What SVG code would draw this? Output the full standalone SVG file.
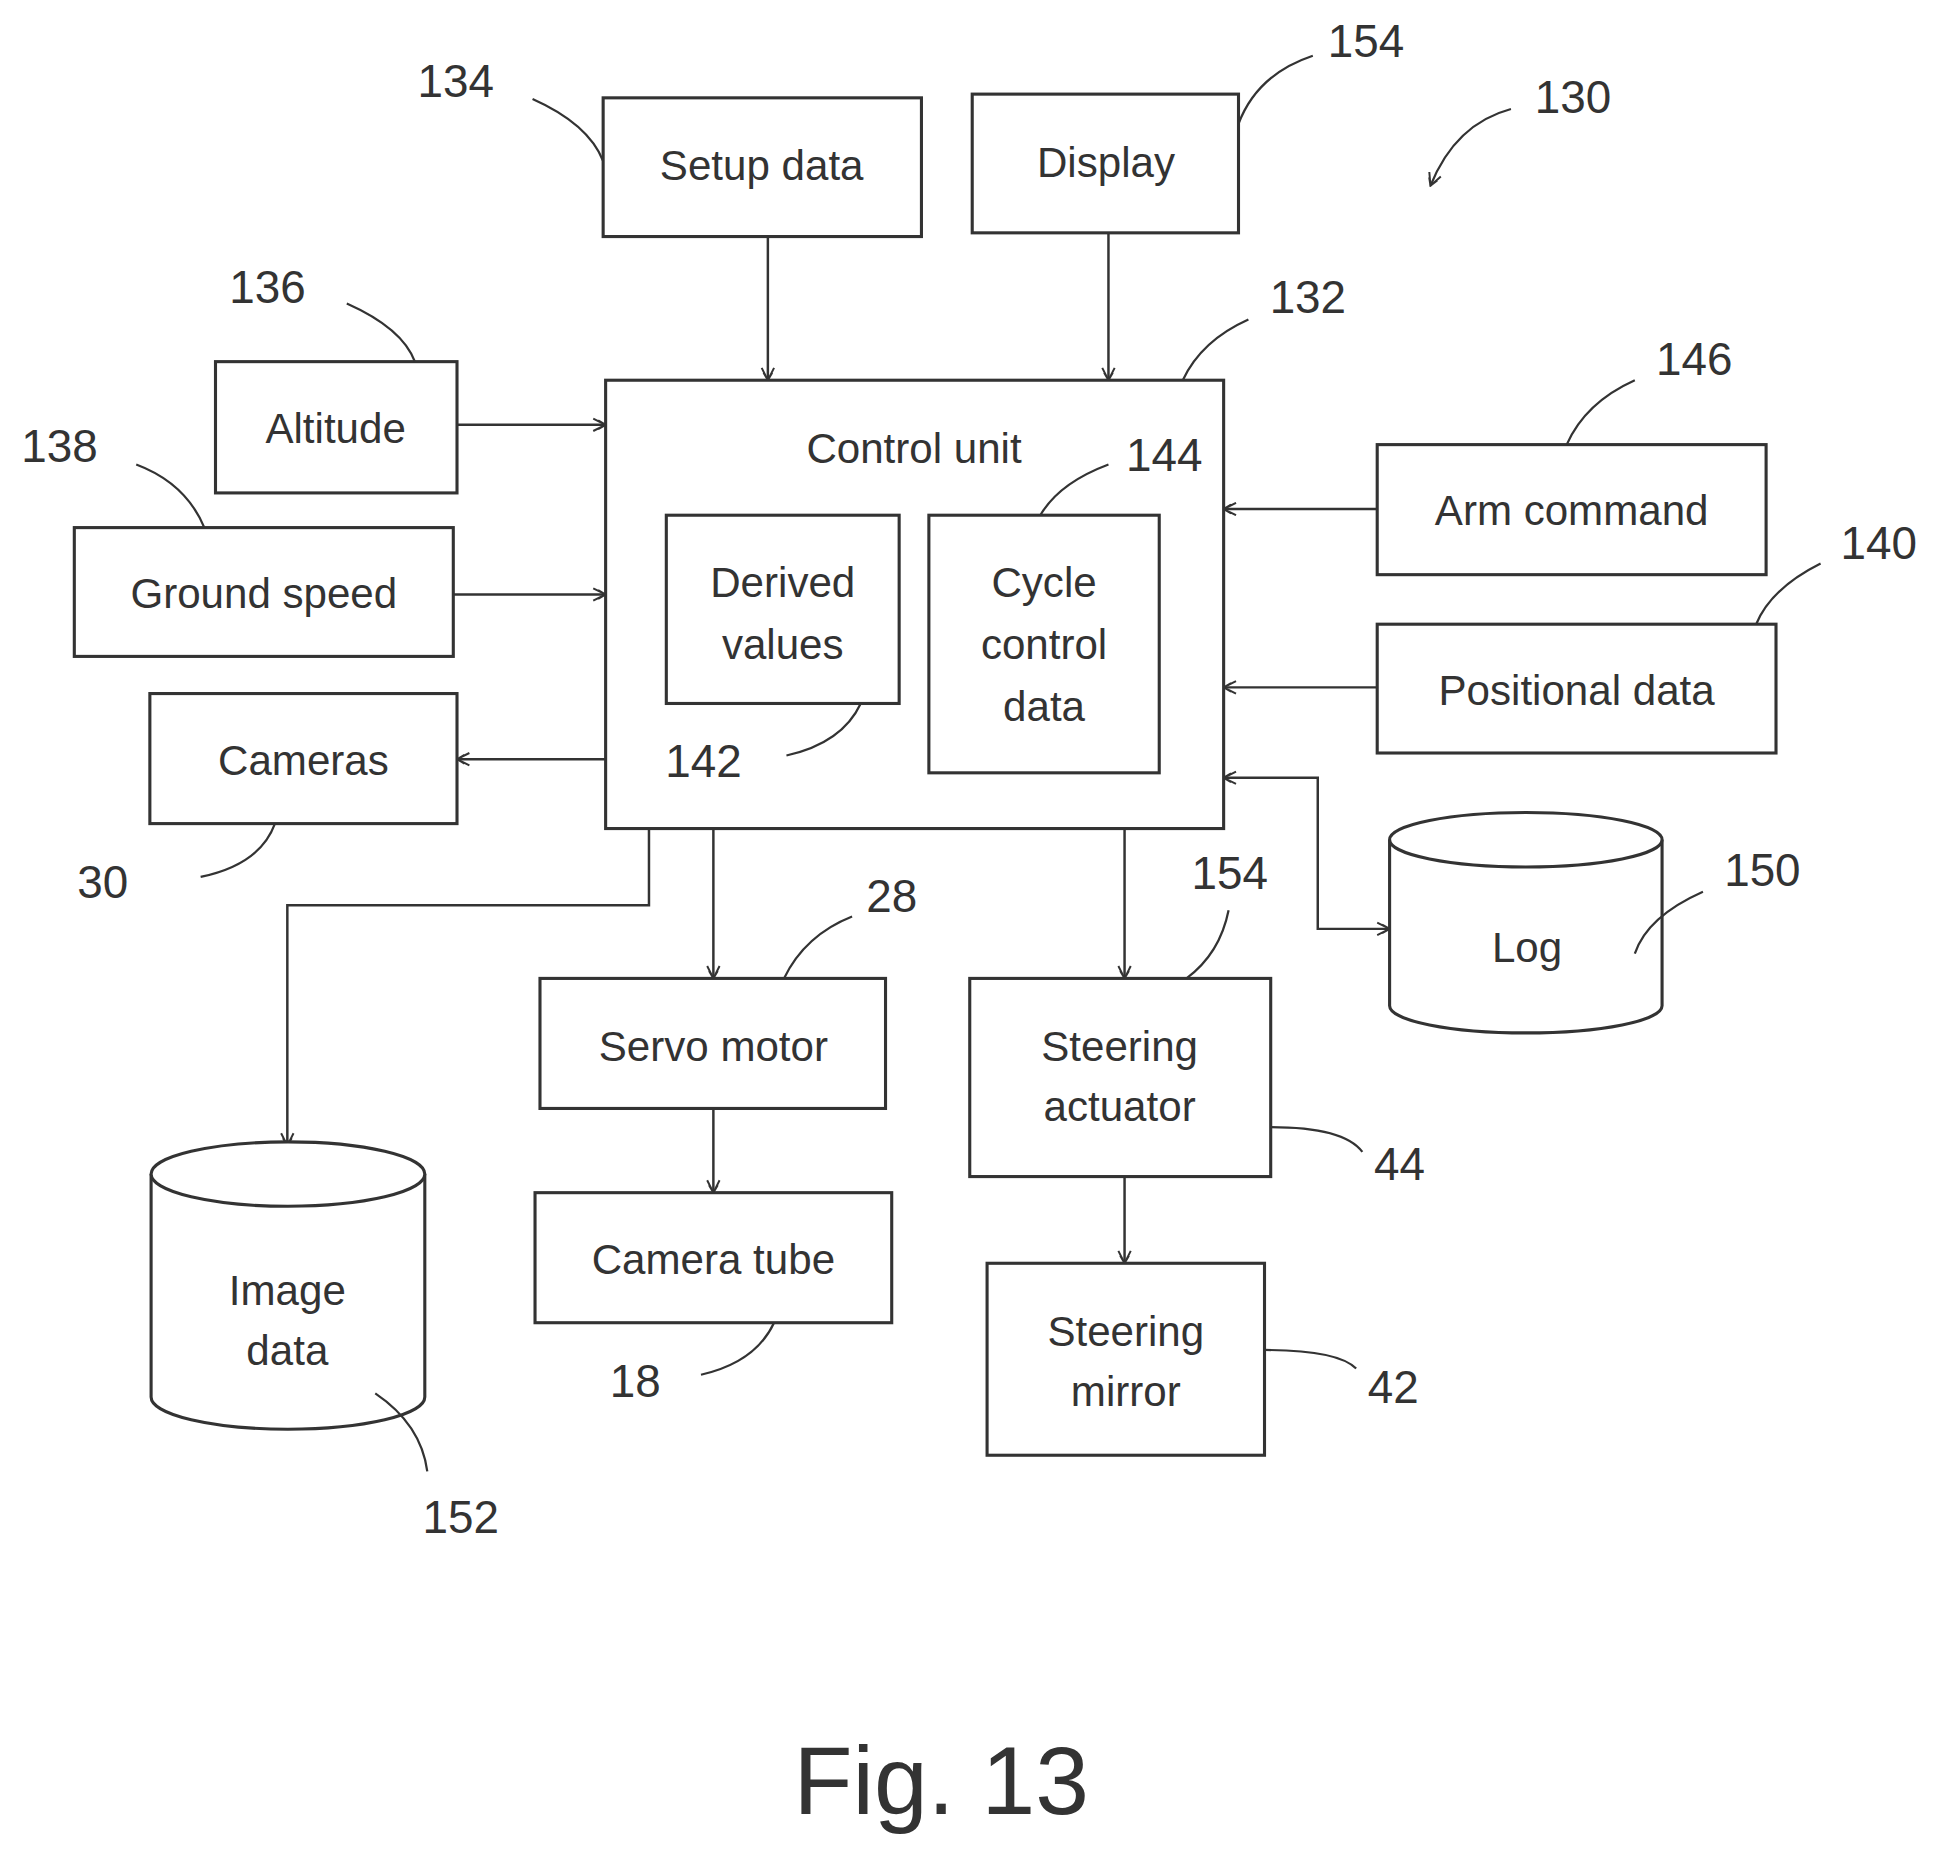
<svg xmlns="http://www.w3.org/2000/svg" width="1942" height="1859" viewBox="0 0 1942 1859">
<defs>
<marker id="a" viewBox="0 0 12 12" refX="11" refY="6" markerWidth="12" markerHeight="12" markerUnits="userSpaceOnUse" orient="auto-start-reverse"><path d="M1,1 L11,6 L1,11 M5,2.5 L11,6 L5,9.5" fill="none" stroke="#333" stroke-width="1.6"/></marker>
</defs>
<style>
.b{fill:#fff;stroke:#333;stroke-width:2.5}
.t{font-family:"Liberation Sans",Arial,sans-serif;font-size:34px;fill:#333;text-anchor:middle}
.n{font-family:"Liberation Sans",Arial,sans-serif;font-size:37px;fill:#333;text-anchor:middle}
.c{fill:none;stroke:#333;stroke-width:2}
.l{fill:none;stroke:#333;stroke-width:1.8}
</style>
<rect width="1942" height="1859" fill="#fff"/>
<g transform="scale(1.2385)">
<g id="connectors">
<path class="c" d="M620,191V307" marker-end="url(#a)"/>
<path class="c" d="M895,188V307" marker-end="url(#a)"/>
<path class="c" d="M369,343H489" marker-end="url(#a)"/>
<path class="c" d="M366,480H489" marker-end="url(#a)"/>
<path class="c" d="M489,613H369" marker-end="url(#a)"/>
<path class="c" d="M1112,411H988" marker-end="url(#a)"/>
<path class="c" d="M1112,555H988" marker-end="url(#a)"/>
<path class="c" d="M988,628H1064V750H1122" marker-start="url(#a)" marker-end="url(#a)"/>
<path class="c" d="M524,669V731H232V925" marker-end="url(#a)"/>
<path class="c" d="M576,669V790" marker-end="url(#a)"/>
<path class="c" d="M908,669V790" marker-end="url(#a)"/>
<path class="c" d="M576,895V963" marker-end="url(#a)"/>
<path class="c" d="M908,950V1020" marker-end="url(#a)"/>
</g>
<g id="control"><rect class="b" x="489" y="307" width="499" height="362"/><text class="t" x="738" y="374">Control unit</text></g>
<g id="derived"><rect class="b" x="538" y="416" width="188" height="152"/><text class="t" x="632" y="482">Derived</text><text class="t" x="632" y="532">values</text></g>
<g id="cycle"><rect class="b" x="750" y="416" width="186" height="208"/><text class="t" x="843" y="482">Cycle</text><text class="t" x="843" y="532">control</text><text class="t" x="843" y="582">data</text></g>
<g id="setup"><rect class="b" x="487" y="79" width="257" height="112"/><text class="t" x="615" y="145">Setup data</text></g>
<g id="display"><rect class="b" x="785" y="76" width="215" height="112"/><text class="t" x="893" y="143">Display</text></g>
<g id="altitude"><rect class="b" x="174" y="292" width="195" height="106"/><text class="t" x="271" y="358">Altitude</text></g>
<g id="ground"><rect class="b" x="60" y="426" width="306" height="104"/><text class="t" x="213" y="491">Ground speed</text></g>
<g id="cameras"><rect class="b" x="121" y="560" width="248" height="105"/><text class="t" x="245" y="626">Cameras</text></g>
<g id="arm"><rect class="b" x="1112" y="359" width="314" height="105"/><text class="t" x="1269" y="424">Arm command</text></g>
<g id="positional"><rect class="b" x="1112" y="504" width="322" height="104"/><text class="t" x="1273" y="569">Positional data</text></g>
<g id="log"><path class="b" d="M1122,678V812A110,22 0 0 0 1342,812V678"/><ellipse class="b" cx="1232" cy="678" rx="110" ry="22"/><text class="t" x="1233" y="777">Log</text></g>
<g id="servo"><rect class="b" x="436" y="790" width="279" height="105"/><text class="t" x="576" y="857">Servo motor</text></g>
<g id="tube"><rect class="b" x="432" y="963" width="288" height="105"/><text class="t" x="576" y="1029">Camera tube</text></g>
<g id="actuator"><rect class="b" x="783" y="790" width="243" height="160"/><text class="t" x="904" y="857">Steering</text><text class="t" x="904" y="905">actuator</text></g>
<g id="mirror"><rect class="b" x="797" y="1020" width="224" height="155"/><text class="t" x="909" y="1087">Steering</text><text class="t" x="909" y="1135">mirror</text></g>
<g id="image"><path class="b" d="M122,948V1128A110.5,26 0 0 0 343,1128V948"/><ellipse class="b" cx="232.5" cy="948" rx="110.5" ry="26"/><text class="t" x="232" y="1054">Image</text><text class="t" x="232" y="1102">data</text></g>
<g id="labels">
<text class="n" x="368" y="78">134</text><path class="l" d="M430,80Q475,100 487,130"/>
<text class="n" x="1103" y="46">154</text><path class="l" d="M1060,45Q1015,60 1000,100"/>
<text class="n" x="1270" y="91">130</text><path class="l" d="M1220,88Q1175,100 1155,150" marker-end="url(#a)"/>
<text class="n" x="216" y="245">136</text><path class="l" d="M280,245Q325,265 335,292"/>
<text class="n" x="48" y="373">138</text><path class="l" d="M110,375Q150,390 165,426"/>
<text class="n" x="1056" y="253">132</text><path class="l" d="M1008,258Q970,275 955,307"/>
<text class="n" x="1368" y="303">146</text><path class="l" d="M1320,307Q1280,325 1265,359"/>
<text class="n" x="940" y="380">144</text><path class="l" d="M895,375Q855,390 840,416"/>
<text class="n" x="1517" y="451">140</text><path class="l" d="M1470,455Q1430,475 1418,504"/>
<text class="n" x="568" y="627">142</text><path class="l" d="M635,610Q680,600 695,568"/>
<text class="n" x="83" y="725">30</text><path class="l" d="M162,708Q210,698 222,665"/>
<text class="n" x="993" y="718">154</text><path class="l" d="M992,735Q985,770 958,790"/>
<text class="n" x="720" y="736">28</text><path class="l" d="M688,740Q650,755 633,790"/>
<text class="n" x="1423" y="715">150</text><path class="l" d="M1375,720Q1330,740 1320,770"/>
<text class="n" x="1130" y="953">44</text><path class="l" d="M1026,910Q1085,910 1100,930"/>
<text class="n" x="513" y="1128">18</text><path class="l" d="M566,1110Q610,1100 625,1068"/>
<text class="n" x="1125" y="1133">42</text><path class="l" d="M1021,1090Q1080,1090 1095,1105"/>
<text class="n" x="372" y="1238">152</text><path class="l" d="M303,1125Q340,1150 345,1188"/>
</g>
<text class="n" x="760" y="1465" style="font-size:78px">Fig. 13</text>
</g>
</svg>
